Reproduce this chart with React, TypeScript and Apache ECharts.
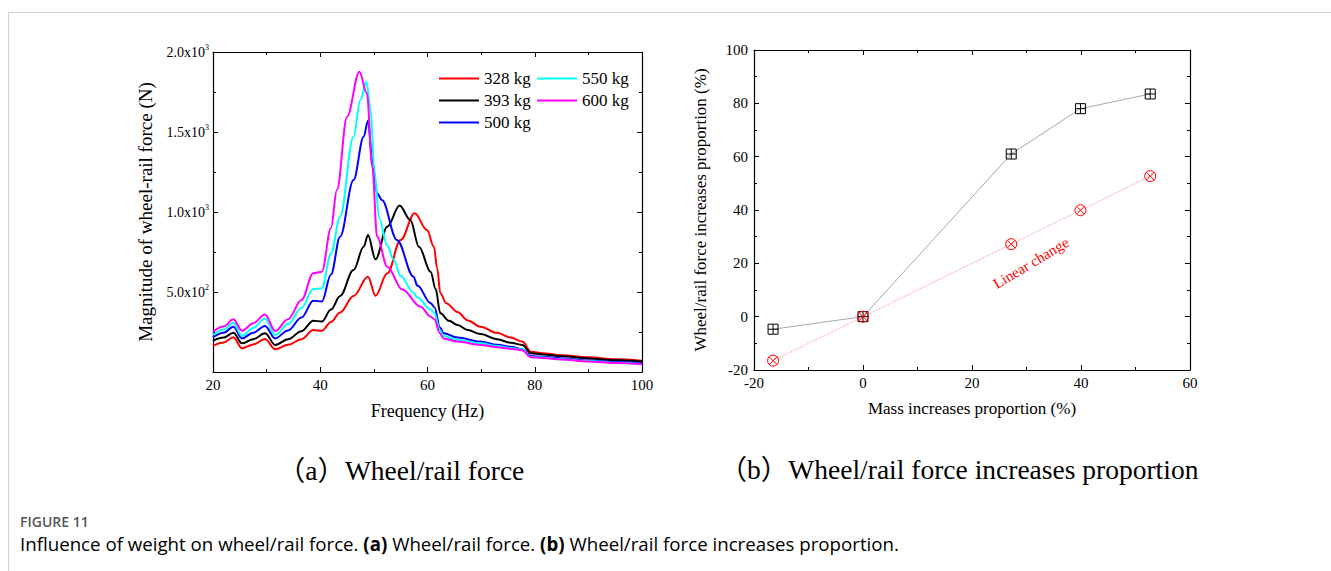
import React, { useEffect, useRef } from "react";
import * as echarts from "echarts";

// ---------- Panel (a): wheel/rail force magnitude vs frequency ----------
const f328 = [20, 22, 23.8, 25.4, 27.5, 29.7, 31.6, 34, 36.5, 38.7, 40.3, 42, 43.7, 46.2, 48.9, 50.3, 52.5, 55, 57.6, 59.9, 61.2, 61.8, 62.4, 63.5, 65.6, 67.5, 69.9, 73, 75.5, 77.7, 79.3, 81.5, 85, 90, 95, 100];
const v328 = [164, 185, 217, 148, 172, 206, 142, 170, 205, 262, 258, 312, 372, 475, 596, 477, 617, 825, 992, 887, 783, 650, 492, 430, 375, 322, 283, 245, 215, 190, 127, 117, 105, 92, 80, 71];

const f393 = [20, 22, 23.8, 25.4, 27.5, 29.7, 31.6, 34, 36.5, 38.7, 40.3, 42, 43.7, 46.2, 48.1, 48.9, 50.3, 52.5, 54.8, 56.8, 58.4, 60.6, 61.5, 62.4, 64, 65.6, 67.5, 69.9, 73, 75.5, 77.7, 79.3, 81.5, 85, 90, 95, 100];
const v393 = [196, 215, 246, 179, 205, 242, 169, 205, 255, 321, 315, 390, 475, 637, 783, 856, 704, 908, 1040, 950, 783, 625, 520, 367, 320, 294, 262, 237, 205, 183, 169, 117, 110, 98, 85, 74, 65];

const f500 = [20, 22, 23.8, 25.4, 27.5, 29.7, 31.6, 34, 36.5, 38.7, 40.3, 42, 43.7, 46.2, 48.1, 48.9, 49.7, 50.6, 51.5, 54.3, 57.4, 58.1, 60.6, 61.3, 62.3, 63, 65.6, 69.9, 73, 75.5, 77.7, 79.3, 81.5, 85, 90, 95, 100];
const v500 = [217, 245, 283, 210, 245, 288, 210, 260, 340, 446, 440, 610, 846, 1200, 1471, 1571, 1325, 1117, 1075, 825, 596, 540, 430, 405, 280, 242, 215, 190, 170, 158, 142, 100, 95, 85, 72, 62, 54];

const f550 = [20, 22, 23.8, 25.4, 27.5, 29.7, 31.6, 34, 36.5, 38.7, 40.3, 42, 43.7, 46.2, 47.5, 48.6, 49.4, 50.1, 51, 52.5, 53.7, 55, 57.4, 58.1, 60.6, 61.3, 62.3, 63, 65.6, 69.9, 73, 75.5, 77.7, 79.3, 81.5, 85, 90, 95, 100];
const v550 = [231, 265, 308, 225, 275, 335, 231, 300, 400, 519, 523, 740, 971, 1471, 1700, 1815, 1640, 1250, 960, 790, 700, 600, 495, 465, 390, 365, 262, 225, 200, 179, 162, 150, 140, 95, 90, 80, 68, 58, 50];

const f600 = [20, 22, 23.8, 25.4, 27.5, 29.7, 31.6, 34, 36.5, 38.7, 40.3, 42, 43.1, 45, 47.3, 48.7, 49.7, 50.6, 52.5, 55.3, 58.7, 60.6, 61.3, 62.3, 63, 65.6, 69.9, 73, 75.5, 77.7, 79.3, 81.5, 85, 90, 95, 100];
const v600 = [252, 285, 329, 258, 305, 360, 256, 330, 450, 617, 627, 900, 1137, 1596, 1877, 1742, 1283, 846, 658, 515, 408, 346, 330, 242, 210, 190, 169, 155, 145, 135, 92, 88, 78, 66, 57, 50];

const massLabels = ["328 kg", "393 kg", "500 kg", "550 kg", "600 kg"];
const massColors = ["#ff0000", "#000000", "#0000ff", "#00ffff", "#ff00ff"];
const freqTicks = [20, 40, 60, 80, 100];
const forceTicks = [0, 500, 1000, 1500, 2000];

// ---------- Panel (b): increase proportions ----------
const massIncrease = [-16.5, 0, 27.2, 39.9, 52.7];
const forceIncrease = [-4.7, 0, 61, 78, 83.5];
const linearChange = [-16.5, 0, 27.2, 39.9, 52.7];

const SERIF = "'Liberation Serif', 'Times New Roman', 'Noto Sans CJK JP', serif";
const SANS = "'Open Sans', 'Noto Sans', sans-serif";

function zip(xs: number[], ys: number[]) {
  return xs.map((x, i) => [x, ys[i]]);
}

function sciLabel(v: number) {
  if (v === 0) return "";
  const e = Math.floor(Math.log10(v));
  const m = v / Math.pow(10, e);
  return `{m|${m.toFixed(1)}x10}{e|${e}}`;
}

const axisLine = { show: true, onZero: false, lineStyle: { color: "#000", width: 1.2 } };
const tickIn = { show: true, inside: true, length: 5, lineStyle: { color: "#000" } };
const minorIn = { show: true, splitNumber: 2, length: 3, lineStyle: { color: "#000" } };

export default function App() {
  const ref = useRef<HTMLDivElement>(null);
  useEffect(() => {
    if (!ref.current) return;
    const chart = echarts.init(ref.current, null, { renderer: "svg" });
    const leftSeriesData = [zip(f328, v328), zip(f393, v393), zip(f500, v500), zip(f550, v550), zip(f600, v600)];

    const mirror = (grid: number, min: number, max: number, interval: number, pos: string) => ({
      type: "value", gridIndex: grid, min, max, interval, position: pos,
      axisLine, axisTick: tickIn, minorTick: minorIn, axisLabel: { show: false }, splitLine: { show: false },
    });

    const legendBase = {
      orient: "vertical", top: 65, icon: "rect",
      itemWidth: 40, itemHeight: 2, itemGap: 5,
      textStyle: { fontFamily: SERIF, fontSize: 17, color: "#000" },
    };

    const option: any = {
      animation: false,
      backgroundColor: "#fff",
      grid: [
        { left: 213, top: 52, width: 429, height: 320 },
        { left: 754, top: 50, width: 436, height: 320 },
      ],
      legend: [
        { ...legendBase, data: massLabels.slice(0, 3), left: 434 },
        { ...legendBase, data: massLabels.slice(3), left: 532 },
      ],
      xAxis: [
        {
          type: "value", gridIndex: 0, min: freqTicks[0], max: freqTicks[freqTicks.length - 1], interval: 20,
          position: "bottom", name: "Frequency (Hz)", nameLocation: "middle", nameGap: 30,
          nameTextStyle: { fontFamily: SERIF, fontSize: 18, color: "#000" },
          axisLine, axisTick: tickIn, minorTick: minorIn, splitLine: { show: false },
          axisLabel: { fontFamily: SERIF, fontSize: 15, color: "#000", margin: 5 },
        },
        mirror(0, 20, 100, 20, "top"),
        {
          type: "value", gridIndex: 1, min: -20, max: 60, interval: 20,
          position: "bottom", name: "Mass increases proportion (%)", nameLocation: "middle", nameGap: 30,
          nameTextStyle: { fontFamily: SERIF, fontSize: 17, color: "#000" },
          axisLine, axisTick: tickIn, minorTick: minorIn, splitLine: { show: false },
          axisLabel: { fontFamily: SERIF, fontSize: 15, color: "#000", margin: 5 },
        },
        mirror(1, -20, 60, 20, "top"),
      ],
      yAxis: [
        {
          type: "value", gridIndex: 0, min: forceTicks[0], max: forceTicks[forceTicks.length - 1], interval: 500,
          position: "left", name: "Magnitude of wheel-rail force (N)", nameLocation: "middle", nameGap: 58,
          nameTextStyle: { fontFamily: SERIF, fontSize: 19, color: "#000" },
          axisLine, axisTick: tickIn, minorTick: minorIn, splitLine: { show: false },
          axisLabel: {
            margin: 4,
            formatter: sciLabel,
            rich: {
              m: { fontFamily: SERIF, fontSize: 14, color: "#000", lineHeight: 18 },
              e: { fontFamily: SERIF, fontSize: 8, color: "#000", verticalAlign: "top", lineHeight: 18 },
            },
          },
        },
        mirror(0, 0, 2000, 500, "right"),
        {
          type: "value", gridIndex: 1, min: -20, max: 100, interval: 20,
          position: "left", name: "Wheel/rail force increases proportion (%)", nameLocation: "middle", nameGap: 45,
          nameTextStyle: { fontFamily: SERIF, fontSize: 17, color: "#000" },
          axisLine, axisTick: tickIn, minorTick: minorIn, splitLine: { show: false },
          axisLabel: { fontFamily: SERIF, fontSize: 15, color: "#000", margin: 6 },
        },
        mirror(1, -20, 100, 20, "right"),
      ],
      series: [
        ...leftSeriesData.map((d, i) => ({
          name: massLabels[i], type: "line", xAxisIndex: 0, yAxisIndex: 0,
          data: d, symbol: "none", smooth: 0.35, smoothMonotone: "x",
          lineStyle: { color: massColors[i], width: 2 }, itemStyle: { color: massColors[i] },
        })),
        {
          name: "Force increase", type: "line", xAxisIndex: 2, yAxisIndex: 2,
          data: zip(massIncrease, forceIncrease),
          symbol: "path://M0,0H10V10H0Z M5,0V10 M0,5H10", symbolSize: 10,
          itemStyle: { color: "rgba(0,0,0,0)", borderColor: "#000", borderWidth: 1 },
          lineStyle: { color: "#a8a8a8", width: 1 },
        },
        {
          name: "Linear change", type: "line", xAxisIndex: 2, yAxisIndex: 2,
          data: zip(massIncrease, linearChange),
          symbol: "path://M10,5A5,5 0 1 1 0,5A5,5 0 1 1 10,5Z M1.5,1.5L8.5,8.5 M8.5,1.5L1.5,8.5", symbolSize: 11,
          itemStyle: { color: "rgba(0,0,0,0)", borderColor: "#ff0000", borderWidth: 1 },
          lineStyle: { color: "#ff9090", width: 1, type: "dotted" },
        },
      ],
      graphic: [
        {
          type: "rect", silent: true, z: -1,
          shape: { x: 8.5, y: 12.5, width: 1400, height: 700 },
          style: { fill: "none", stroke: "#d4d4d4", lineWidth: 1 },
        },
        {
          type: "text", x: 1031, y: 263, rotation: (31 * Math.PI) / 180,
          style: { text: "Linear change", fill: "#ff0000", font: `15px ${SERIF}`, align: "center", verticalAlign: "middle" },
        },
        {
          type: "text", x: 401, y: 470,
          style: { text: "（a）Wheel/rail force", fill: "#000", font: `27.5px ${SERIF}`, align: "center", verticalAlign: "middle" },
        },
        {
          type: "text", x: 959, y: 469,
          style: { text: "（b）Wheel/rail force increases proportion", fill: "#000", font: `27.5px ${SERIF}`, align: "center", verticalAlign: "middle" },
        },
        {
          type: "text", x: 20, y: 521,
          style: { text: "FIGURE 11", fill: "#555", font: `600 14px ${SANS}`, align: "left", verticalAlign: "middle" },
        },
        {
          type: "text", x: 20, y: 543,
          style: {
            text: "{n|Influence of weight on wheel/rail force. }{b|(a)}{n| Wheel/rail force. }{b|(b)}{n| Wheel/rail force increases proportion.}",
            align: "left", verticalAlign: "middle",
            rich: {
              n: { fontFamily: SANS, fontSize: 18.7, color: "#666" },
              b: { fontFamily: SANS, fontSize: 18.7, color: "#444", fontWeight: "bold" },
            },
          },
        },
      ],
    };
    chart.setOption(option);
    return () => chart.dispose();
  }, []);
  return (
    <div
      ref={ref}
      style={{ position: "absolute", left: 0, top: 0, width: 1331, height: 571, background: "#fff" }}
    />
  );
}
